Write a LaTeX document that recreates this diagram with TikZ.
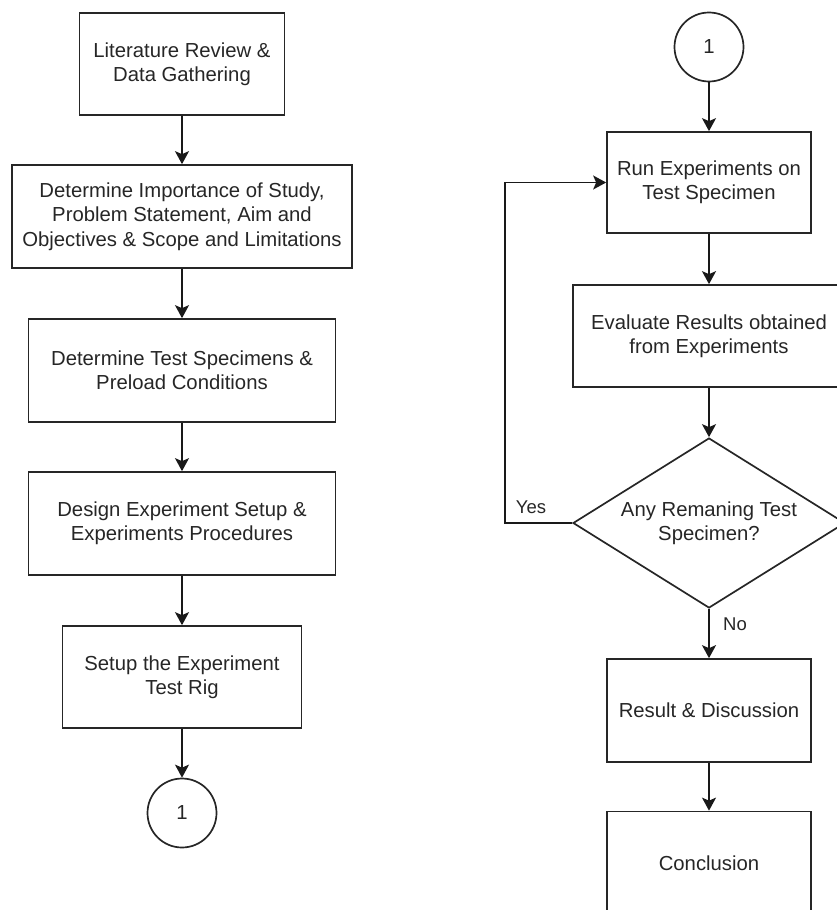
\documentclass[tikz,border=0pt]{standalone}
\usepackage{fontspec}
\setmainfont{Liberation Sans}
\usetikzlibrary{shapes.geometric,arrows.meta}
\begin{document}
\begin{tikzpicture}[x=1pt,y=1pt,
  every node/.style={text=black!85},
  box/.style={draw=black!85, line width=1.7pt, rectangle, inner sep=0pt, align=center,
    font=\fontsize{20.3}{24.4}\selectfont},
  conn/.style={draw=black!85, line width=1.7pt, circle, inner sep=0pt, minimum size=69pt,
    font=\fontsize{20.3}{24.4}\selectfont},
  dec/.style={draw=black!85, line width=1.7pt, diamond, aspect=1.6, inner sep=0pt, align=center,
    minimum width=272pt, minimum height=170pt, font=\fontsize{20.3}{24.4}\selectfont},
  flow/.style={draw=black!90, line width=1.7pt, -{Stealth[length=13pt,width=14pt,inset=3pt]}},
  lbl/.style={font=\fontsize{18.5}{22}\selectfont, inner sep=0pt}
]
\useasboundingbox (0,0) rectangle (837,-910);
\clip (0,0) rectangle (837,-910);
% left column
\node[box, minimum width=205pt, minimum height=102pt] (b1) at (182,-64) {Literature Review \&\\Data Gathering};
\node[box, minimum width=340pt, minimum height=103pt] (b2) at (182,-216.5) {Determine Importance of Study,\\Problem Statement, Aim and\\Objectives \& Scope and Limitations};
\node[box, minimum width=307pt, minimum height=103pt] (b3) at (182,-370.5) {Determine Test Specimens \&\\Preload Conditions};
\node[box, minimum width=307pt, minimum height=103pt] (b4) at (182,-523.5) {Design Experiment Setup \&\\Experiments Procedures};
\node[box, minimum width=239pt, minimum height=102pt] (b5) at (182,-677) {Setup the Experiment\\Test Rig};
\node[conn] (c1) at (182,-813) {1};
% right column
\node[conn] (c2) at (709,-47) {1};
\node[box, minimum width=204pt, minimum height=101pt] (r1) at (709,-182.5) {Run Experiments on\\Test Specimen};
\node[box, minimum width=272pt, minimum height=102pt] (r2) at (709,-336) {Evaluate Results obtained\\from Experiments};
\node[dec] (d) at (709,-523) {Any Remaning Test\\Specimen?};
\node[box, minimum width=204pt, minimum height=103pt] (r3) at (709,-710.5) {Result \& Discussion};
\node[box, minimum width=204pt, minimum height=103pt] (r4) at (709,-863) {Conclusion};
\coordinate (lb) at (505,-523);
\coordinate (lt) at (505,-182.5);
% connectors
\draw[flow] (b1) -- (b2);
\draw[flow] (b2) -- (b3);
\draw[flow] (b3) -- (b4);
\draw[flow] (b4) -- (b5);
\draw[flow] (b5) -- (c1);
\draw[flow] (c2) -- (r1);
\draw[flow] (r1) -- (r2);
\draw[flow] (r2) -- (d);
\draw[flow] (d) -- (r3);
\draw[flow] (r3) -- (r4);
\draw[flow] (d.west) -- (lb) -- (lt) -- (r1.west);
\node[lbl] (yes) at (531,-507) {Yes};
\node[lbl] (no) at (735,-624) {No};
\end{tikzpicture}
\end{document}
